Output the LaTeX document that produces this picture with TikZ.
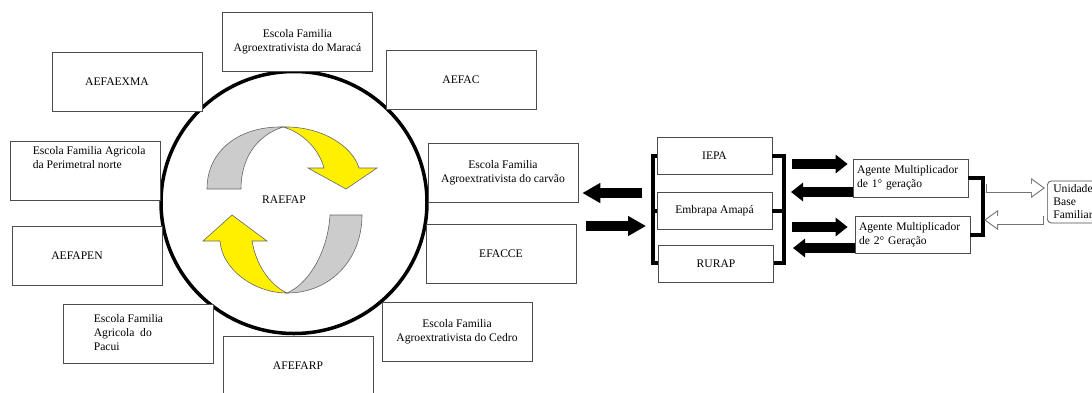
\documentclass[tikz,border=0pt]{standalone}
\usepackage{fontspec}
\setmainfont{Liberation Serif}
\usetikzlibrary{arrows.meta,positioning,calc}

\definecolor{ribbonyellow}{RGB}{255,240,0}
\definecolor{ribbongray}{RGB}{204,204,204}

\begin{document}
\begin{tikzpicture}[
    x=1pt, y=-1pt,
    font=\fontsize{11.6}{14}\selectfont,
    box/.style={draw=black!70, fill=white, line width=0.7pt, align=center, minimum width=150pt, minimum height=59pt, inner sep=2pt},
    smallbox/.style={box, minimum width=115pt, minimum height=37pt},
    agentbox/.style={smallbox, align=left, text width=107pt},
    txt/.style={align=left, inner sep=0pt},
    ring/.style={line width=3.5pt},
    band/.style={draw=black!60, line width=0.6pt},
    bar/.style={line width=4pt},
    bigarrow/.style={line width=10pt, -{Triangle[length=18pt, width=19pt]}},
    midarrow/.style={line width=10pt, -{Triangle[length=12pt, width=18pt]}},
    hollow/.style={line width=9pt, draw=black!55, -{Triangle[length=14pt, width=19pt]},
        postaction={draw=white, line width=7.4pt, shorten <=0.8pt, shorten >=1.8pt,
                    -{Triangle[length=11.4pt, width=15.4pt]}}}
]
\useasboundingbox (0,0) rectangle (1092,392);

% ------------------------
% Network ring and rotating arrows
% ------------------------
\draw[ring] (294,202.5) ellipse [x radius=133pt, y radius=131pt];

% upper arrow
\draw[band, fill=ribbongray] (207,189) .. controls (207,150) and (240,126) .. (283,127)
    .. controls (255,136) and (241,160) .. (241,189) -- cycle;
\draw[band, fill=ribbonyellow] (283,127) .. controls (320,126) and (352,145) .. (359,168)
    -- (377,168) -- (346,189) -- (308,168) -- (324,168)
    .. controls (320,152) and (305,133) .. (283,127) -- cycle;

% lower arrow
\draw[band, fill=ribbongray] (330,215) -- (362,215) .. controls (362,260) and (330,293) .. (287,293)
    .. controls (310,283) and (328,250) .. (330,215) -- cycle;
\draw[band, fill=ribbonyellow] (287,293) .. controls (255,293) and (222,270) .. (220,241)
    -- (203,241) -- (232,215) -- (267,241) -- (252,241)
    .. controls (256,265) and (270,285) .. (287,293) -- cycle;

\node (raefap) at (284,200) {RAEFAP};

% ------------------------
% Schools around the ring
% ------------------------
\node[box] (maraca) at (297.5,41.5) {Escola Familia\\Agroextrativista do Maracá};
\node[box] (aefaexma) at (127,82) {AEFAEXMA\hspace*{20pt}};
\node[box] (aefac) at (461,79.5) {AEFAC};
\node[box] (perimetral) at (85,170.5) {};
\node[txt, anchor=north west] (perimetral-txt) at ([shift={(23,6)}]perimetral.north west)
    {Escola Familia Agricola\\da Perimetral norte};
\node[box] (carvao) at (503,172.5) {Escola Familia\\Agroextrativista do carvão};
\node[box] (aefapen) at (87,256) {AEFAPEN\hspace*{20pt}};
\node[box] (efacce) at (501,254) {EFACCE};
\node[box] (pacui) at (138,334) {};
\node[txt, anchor=north west] (pacui-txt) at ([shift={(31,10)}]pacui.north west)
    {Escola Familia\\Agricola\ \ do\\Pacui};
\node[box] (cedro) at (457,332) {Escola Familia\\Agroextrativista do Cedro};
\node[box] (afefarp) at (298,366) {AFEFARP};

% ------------------------
% Partner institutions
% ------------------------
\node[smallbox] (iepa) at (714.5,156) {IEPA};
\node[smallbox, below=17pt of iepa] (embrapa) {Embrapa Amapá};
\node[smallbox, below=15pt of embrapa, xshift=1.5pt] (rurap) {RURAP};

\draw[bar] (iepa.west) -- ++(-4,0) |- (rurap.west);
\draw[bar] (embrapa.west) -- ++(-4,0);
\draw[bar] (iepa.east) -- ++(12,0) |- (rurap.east);
\draw[bar] (embrapa.east) -- ++(11,0);

\coordinate (lb-out) at (642,193);
\coordinate (lb-in) at (646,226);
\draw[bigarrow, shorten >=4pt] (lb-out) -- (lb-out -| carvao.east);
\draw[bigarrow, shorten <=8pt] (lb-in -| carvao.east) -- (lb-in);

% ------------------------
% Multiplier agents
% ------------------------
\node[agentbox, minimum height=38pt] (agente1) at (910.5,178) {Agente Multiplicador\\de 1° geração};
\node[agentbox] (agente2) at (912.5,234.5) {Agente Multiplicador\\de 2° Geração};

\coordinate (rb1) at (792,164);
\coordinate (rb2) at (791,192);
\coordinate (rb3) at (792,227);
\coordinate (rb4) at (793,248);
\draw[midarrow, shorten >=5pt] (rb1) -- (rb1 -| agente1.west);
\draw[midarrow] (rb2 -| agente1.west) -- (rb2);
\draw[midarrow, shorten >=7pt] (rb3) -- (rb3 -| agente2.west);
\draw[midarrow] (rb4 -| agente2.west) -- (rb4);

\draw[bar] (agente1.east) -- ++(15,0) |- (agente2.east);

% ------------------------
% Family unit
% ------------------------
\node[draw=black!70, line width=0.7pt, rounded corners=4pt, anchor=west, align=left,
      text width=45pt, inner xsep=6pt, inner ysep=1pt, minimum height=42pt,
      font=\fontsize{11.6}{13}\selectfont] (unidade) at (1047,202) {Unidade\\Base\\Familiar};

\coordinate (hout) at (986,188);
\coordinate (hin) at (984,220);
\draw[hollow] (hout) -- ($(hout -| unidade.west)+(-2,0)$);
\draw[hollow] ($(hin -| unidade.west)+(-3,0)$) -- (hin);

\end{tikzpicture}
\end{document}
